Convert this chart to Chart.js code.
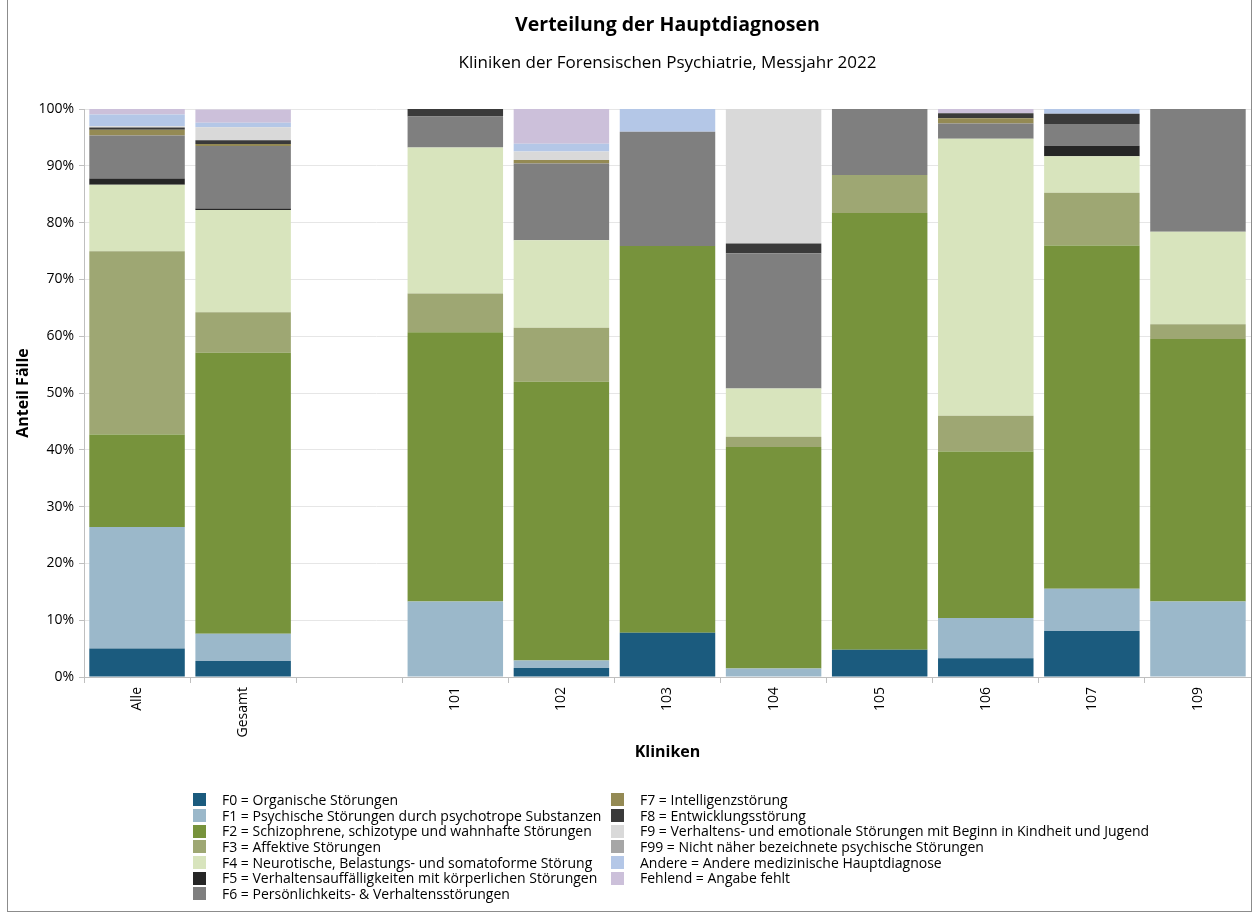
<!DOCTYPE html>
<html lang="de">
<head>
<meta charset="utf-8">
<title>Verteilung der Hauptdiagnosen</title>
<script src="https://cdn.jsdelivr.net/npm/chart.js@4.4.1/dist/chart.umd.min.js"></script>
<style>
  html, body { margin: 0; padding: 0; background: #fff; }
  body { width: 1257px; height: 917px; position: relative; overflow: hidden; font-family: "Open Sans", "Noto Sans", sans-serif; color: #000; }
  #frame { position: absolute; left: 7px; top: 0; width: 1245px; height: 912px; border: 1px solid #8c8c8c; border-top: none; box-sizing: border-box; }
  #chart-box { position: absolute; left: 0; top: 0; width: 1257px; height: 917px; }
  .title { position: absolute; left: 84px; width: 1167px; text-align: center; white-space: nowrap; }
  #title { top: 10px; font-size: 19.5px; font-weight: bold; line-height: 28px; }
  #subtitle { top: 49px; font-size: 17px; line-height: 26px; }
  #legend { position: absolute; left: 193px; top: 792px; display: grid; grid-auto-flow: column;
    grid-template-rows: repeat(7, 15.7px); grid-template-columns: 418px auto; font-size: 14px; }
  .item { display: flex; align-items: center; height: 15.7px; line-height: 15.7px; white-space: nowrap; }
  .box { width: 13px; height: 13px; margin-right: 16px; flex: none; }
</style>
</head>
<body>
<div id="chart-box"><canvas id="diagChart" width="1257" height="917"></canvas></div>
<div id="title" class="title">Verteilung der Hauptdiagnosen</div>
<div id="subtitle" class="title">Kliniken der Forensischen Psychiatrie, Messjahr 2022</div>
<div id="legend"></div>
<div id="frame"></div>

<script>
// Kategorien (leere Spalte als Abstand zwischen Gesamt und den Kliniken)
const kliniken = ['Alle', 'Gesamt', '', '101', '102', '103', '104', '105', '106', '107', '109'];

// Anteile in Prozent
const f0 = [5.0, 2.8, null, 0, 1.6, 7.8, 0, 4.8, 3.3, 8.1, 0];
const f1 = [21.4, 4.8, null, 13.3, 1.3, 0, 1.5, 0, 7.1, 7.45, 13.3];
const f2 = [16.3, 49.5, null, 47.4, 49.1, 68.1, 39.0, 76.9, 29.3, 60.4, 46.2];
const f3 = [32.25, 7.1, null, 6.8, 9.5, 0, 1.8, 6.7, 6.3, 9.3, 2.6];
const f4 = [11.7, 18.0, null, 25.7, 15.4, 0, 8.5, 0, 48.75, 6.45, 16.3];
const f5 = [1.1, 0.3, null, 0, 0, 0, 0, 0, 0, 1.85, 0];
const f6 = [7.6, 11.0, null, 5.5, 13.5, 20.1, 23.8, 11.6, 2.7, 3.8, 21.6];
const f7 = [1.0, 0.35, null, 0, 0.6, 0, 0, 0, 0.9, 0, 0];
const f8 = [0.4, 0.65, null, 1.3, 0, 0, 1.7, 0, 0.9, 1.8, 0];
const f9 = [0.2, 2.3, null, 0, 1.5, 0, 23.7, 0, 0, 0, 0];
const f99 = [0, 0, null, 0, 0, 0, 0, 0, 0, 0, 0];
const andere = [2.1, 0.8, null, 0, 1.4, 4.0, 0, 0, 0, 0.9, 0];
const fehlend = [1.0, 2.3, null, 0, 6.1, 0, 0, 0, 0.8, 0, 0];

const yTicks = [0, 10, 20, 30, 40, 50, 60, 70, 80, 90, 100];

const serien = [
  { label: 'F0 = Organische Störungen', data: f0, color: '#1b5b7e' },
  { label: 'F1 = Psychische Störungen durch psychotrope Substanzen', data: f1, color: '#9bb8ca' },
  { label: 'F2 = Schizophrene, schizotype und wahnhafte Störungen', data: f2, color: '#77933c' },
  { label: 'F3 = Affektive Störungen', data: f3, color: '#9ea773' },
  { label: 'F4 = Neurotische, Belastungs- und somatoforme Störung', data: f4, color: '#d8e4bd' },
  { label: 'F5 = Verhaltensauffälligkeiten mit körperlichen Störungen', data: f5, color: '#262626' },
  { label: 'F6 = Persönlichkeits- & Verhaltensstörungen', data: f6, color: '#7f7f7f' },
  { label: 'F7 = Intelligenzstörung', data: f7, color: '#948a54' },
  { label: 'F8 = Entwicklungsstörung', data: f8, color: '#3a3a3a' },
  { label: 'F9 = Verhaltens- und emotionale Störungen mit Beginn in Kindheit und Jugend', data: f9, color: '#d9d9d9' },
  { label: 'F99 = Nicht näher bezeichnete psychische Störungen', data: f99, color: '#a6a6a6' },
  { label: 'Andere = Andere medizinische Hauptdiagnose', data: andere, color: '#b4c7e7' },
  { label: 'Fehlend = Angabe fehlt', data: fehlend, color: '#ccc0da' }
];

const ctx = document.getElementById('diagChart').getContext('2d');

const chart = new Chart(ctx, {
  type: 'bar',
  data: {
    labels: kliniken,
    datasets: serien.map(s => ({
      label: s.label,
      data: s.data,
      backgroundColor: s.color,
      borderWidth: 0,
      barPercentage: 0.9,
      categoryPercentage: 1.0
    }))
  },
  options: {
    responsive: false,
    animation: false,
    layout: { padding: { left: 14, right: 6, top: 109, bottom: 155 } },
    plugins: {
      legend: { display: false },
      title: { display: false },
      tooltip: { enabled: false }
    },
    scales: {
      x: {
        stacked: true,
        grid: { display: true, drawOnChartArea: false, offset: true, tickLength: 6, tickColor: '#bfbfbf' },
        border: { color: '#bfbfbf' },
        ticks: { minRotation: 90, maxRotation: 90, color: '#000', font: { family: 'Open Sans', size: 14 }, padding: 4 },
        title: { display: true, text: 'Kliniken', color: '#000', font: { family: 'Open Sans', size: 16, weight: 'bold' }, padding: { top: 4, bottom: 0 } },
        afterFit: (scale) => { scale.height = 85; }
      },
      y: {
        stacked: true,
        min: 0,
        max: 100,
        afterBuildTicks: (scale) => { scale.ticks = yTicks.map(v => ({ value: v })); },
        grid: { color: '#e6e6e6', tickLength: 5, tickColor: '#bfbfbf' },
        border: { color: '#bfbfbf' },
        ticks: { color: '#000', font: { family: 'Open Sans', size: 14 }, padding: 5, callback: (v) => v + '%' },
        title: { display: true, text: 'Anteil Fälle', color: '#000', font: { family: 'Open Sans', size: 16, weight: 'bold' }, padding: { top: 0, bottom: 4 } },
        afterFit: (scale) => { scale.width = 70; }
      }
    }
  }
});

// Legende in zwei Spalten wie im Original
const legend = document.getElementById('legend');
chart.data.datasets.forEach(ds => {
  const item = document.createElement('div');
  item.className = 'item';
  const box = document.createElement('span');
  box.className = 'box';
  box.style.background = ds.backgroundColor;
  const text = document.createElement('span');
  text.textContent = ds.label;
  item.appendChild(box);
  item.appendChild(text);
  legend.appendChild(item);
});
</script>
</body>
</html>
